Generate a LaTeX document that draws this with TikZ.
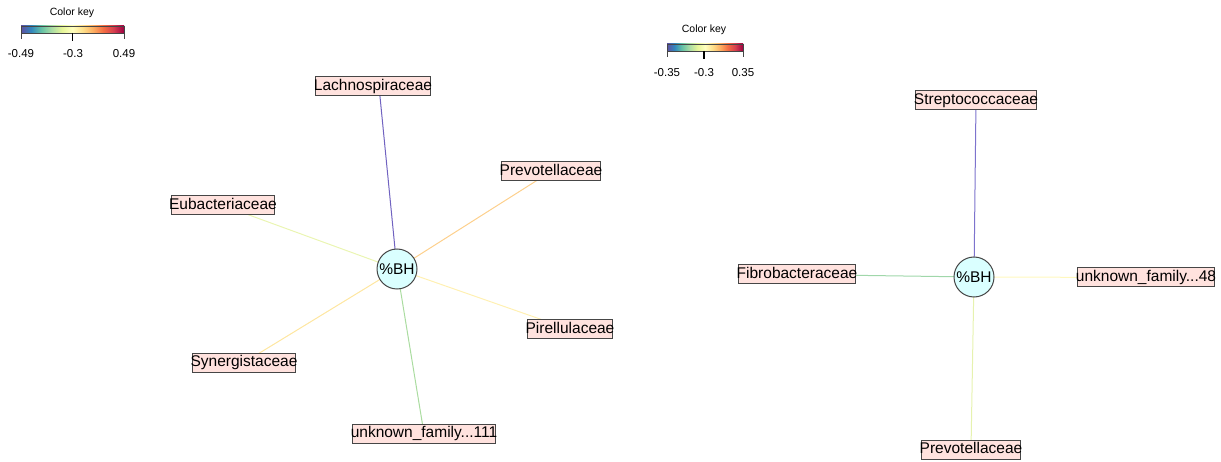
\documentclass[tikz,border=0pt]{standalone}
\usepackage{fontspec}
\setmainfont{Liberation Sans}
\usetikzlibrary{calc,backgrounds}
\pgfdeclarehorizontalshading{spectral}{100bp}{%
rgb(0bp)=(0.369,0.310,0.635);
rgb(25bp)=(0.369,0.310,0.635);
rgb(30bp)=(0.196,0.533,0.741);
rgb(35bp)=(0.400,0.761,0.647);
rgb(40bp)=(0.671,0.867,0.643);
rgb(45bp)=(0.902,0.961,0.596);
rgb(50bp)=(1.000,1.000,0.749);
rgb(55bp)=(0.996,0.878,0.545);
rgb(60bp)=(0.992,0.682,0.380);
rgb(65bp)=(0.957,0.427,0.263);
rgb(70bp)=(0.835,0.243,0.310);
rgb(75bp)=(0.620,0.004,0.259);
rgb(100bp)=(0.620,0.004,0.259)}
\definecolor{boxfill}{RGB}{255,226,222}
\definecolor{circfill}{RGB}{218,255,255}
\definecolor{bord}{RGB}{70,70,70}
\definecolor{ePurple}{RGB}{112,98,192}
\definecolor{ePurpleB}{RGB}{125,115,205}
\definecolor{eOrange}{RGB}{253,208,140}
\definecolor{eYG}{RGB}{234,245,178}
\definecolor{eYel}{RGB}{255,240,178}
\definecolor{eYelO}{RGB}{254,230,160}
\definecolor{eGreen}{RGB}{170,220,160}
\definecolor{eGreenB}{RGB}{160,215,170}
\definecolor{eLY}{RGB}{255,248,190}
\definecolor{eYG2}{RGB}{230,242,175}
\tikzset{
  taxon/.style={draw=bord, fill=boxfill, line width=1pt, inner xsep=-2pt, inner ysep=0pt,
    minimum height=19pt, font=\fontsize{15.5}{15.5}\selectfont, text height=11.2pt, text depth=3pt},
  hub/.style={circle, draw=bord, fill=circfill, line width=1pt, minimum size=40pt, inner sep=0pt,
    font=\fontsize{15.5}{15.5}\selectfont},
  edge/.style={line width=1pt},
  keytitle/.style={font=\fontsize{10.5}{10.5}\selectfont},
  keylab/.style={font=\fontsize{11.5}{11.5}\selectfont},
  keytick/.style={line width=0.8pt, draw=bord}
}
\begin{document}
\begin{tikzpicture}[x=1pt,y=-1pt]
\useasboundingbox (0,0) rectangle (1221,462);
% ---------- left network ----------
\node[hub] (bhL) at (397,269) {\%BH};
\node[taxon] (lach) at (373,86.5) {Lachnospiraceae};
\node[taxon] (prevL) at (551,171.5) {Prevotellaceae};
\node[taxon] (eub) at (223,205.5) {Eubacteriaceae};
\node[taxon] (pir) at (570,329.5) {Pirellulaceae};
\node[taxon] (syn) at (244,362.5) {Synergistaceae};
\node[taxon] (unk111) at (424,433.5) {unknown\_family...111};
% ---------- right network ----------
\node[hub] (bhR) at (974,277) {\%BH};
\node[taxon] (strep) at (976,100.5) {Streptococcaceae};
\node[taxon] (fib) at (797,274.5) {Fibrobacteraceae};
\node[taxon] (unk48) at (1146,277.5) {unknown\_family...48};
\node[taxon] (prevR) at (971,449.5) {Prevotellaceae};
\begin{scope}[on background layer]
\draw[edge, ePurple] (bhL.center) -- ($(lach.center)+(6,0)$);
\draw[edge, eOrange] (bhL.center) -- (prevL.center);
\draw[edge, eYG] (bhL.center) -- (eub.center);
\draw[edge, eYel] (bhL.center) -- (pir.center);
\draw[edge, eYelO] (bhL.center) -- (syn.center);
\draw[edge, eGreen] (bhL.center) -- (unk111.center);
\draw[edge, ePurpleB] (bhR.center) -- (strep.center);
\draw[edge, eGreenB] (bhR.center) -- (fib.center);
\draw[edge, eLY] (bhR.center) -- (unk48.center);
\draw[edge, eYG2] (bhR.center) -- (prevR.center);
\end{scope}
% ---------- left color key ----------
\node[keytitle] (ktL) at (72,12.5) {Color key};
\shade[shading=spectral, draw=bord, line width=0.8pt] (21,26) rectangle (124,33);
\coordinate (kLa) at (21,33);
\coordinate (kLb) at (72.5,33);
\coordinate (kLc) at (124,33);
\draw[keytick] (kLa) -- ++(0,6.5);
\draw[keytick] (kLc) -- ++(0,6.5);
\draw[keytick, line width=1.4pt, draw=black] (kLb) -- ++(0,8);
\node[keylab] (kl1) at (21,54) {-0.49};
\node[keylab] (kl2) at (73,54) {-0.3};
\node[keylab] (kl3) at (124,54) {0.49};
% ---------- right color key ----------
\node[keytitle] (ktR) at (704,29.5) {Color key};
\shade[shading=spectral, draw=bord, line width=0.8pt] (667,44) rectangle (743,51);
\coordinate (kRa) at (667,51);
\coordinate (kRb) at (704,51);
\coordinate (kRc) at (743,51);
\draw[keytick] (kRa) -- ++(0,6.5);
\draw[keytick] (kRc) -- ++(0,6.5);
\draw[keytick, line width=1.4pt, draw=black] (kRb) -- ++(0,8);
\node[keylab] (kr1) at (667,72.5) {-0.35};
\node[keylab] (kr2) at (704,72.5) {-0.3};
\node[keylab] (kr3) at (743,72.5) {0.35};
\end{tikzpicture}
\end{document}
